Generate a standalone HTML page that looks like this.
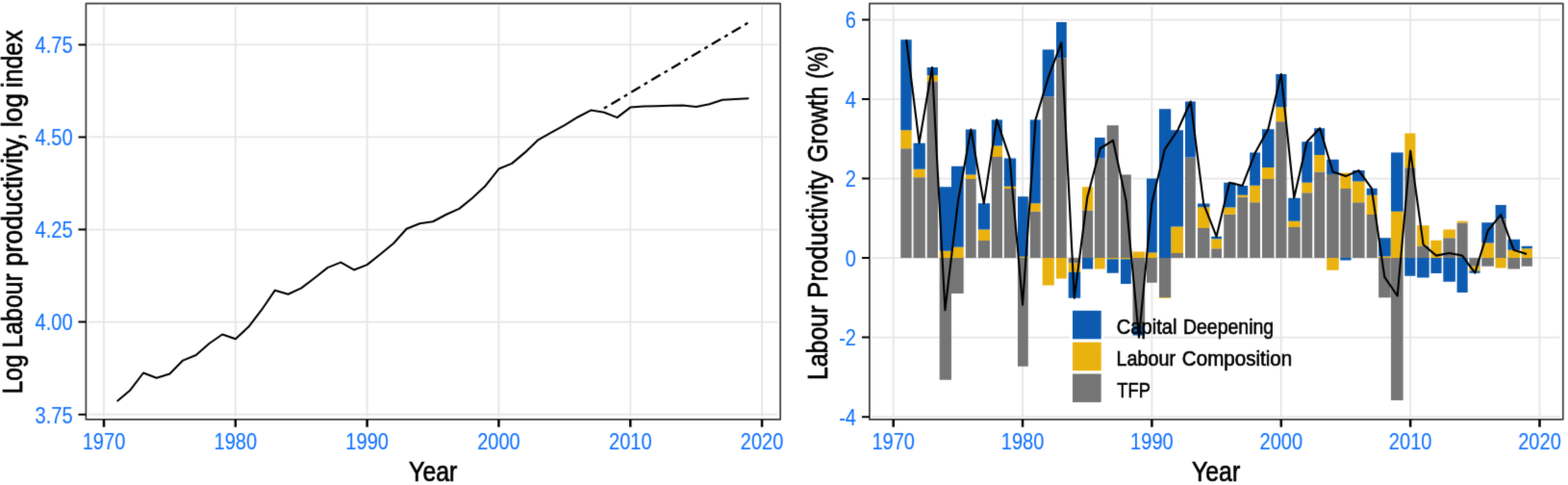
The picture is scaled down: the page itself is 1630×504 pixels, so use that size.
<!DOCTYPE html>
<html lang="en">
<head>
<meta charset="utf-8">
<title>Labour productivity and growth decomposition</title>
<style>
html,body{margin:0;padding:0;background:#fff;}
body{width:1630px;height:504px;overflow:hidden;}
svg{display:block;}
text{font-family:"Liberation Sans", sans-serif;}
</style>
</head>
<body>
<svg width="1630" height="504" viewBox="0 0 1630 504">
<defs><filter id="soft" x="0" y="0" width="1630" height="504" filterUnits="userSpaceOnUse" color-interpolation-filters="sRGB"><feConvolveMatrix order="3" kernelMatrix="0.0113 0.0838 0.0113 0.0838 0.6193 0.0838 0.0113 0.0838 0.0113" edgeMode="duplicate" preserveAlpha="true"/></filter></defs>
<g filter="url(#soft)">
<rect width="1630" height="504" fill="#fff"/>
<g id="left">
<path d="M108 6.5V433.1M244.82 6.5V433.1M381.64 6.5V433.1M518.46 6.5V433.1M655.28 6.5V433.1M792.1 6.5V433.1M92.2 430.7H808.4M92.2 334.62H808.4M92.2 238.55H808.4M92.2 142.47H808.4M92.2 46.4H808.4" stroke="#e6e6e6" stroke-width="1.8" fill="none"/>
<polyline points="121.68,416.98 135.36,405.41 149.05,387.5 162.73,392.69 176.41,388.43 190.09,374.59 203.77,369.02 217.46,356.99 231.14,347.5 244.82,352.3 258.5,339.62 272.18,321.71 285.87,301.65 299.55,305.8 313.23,299.38 326.91,288.97 340.59,278.13 354.28,272.6 367.96,280.44 381.64,275.14 395.32,264.18 409,253.04 422.69,237.7 436.37,232.21 450.05,230.25 463.73,222.99 477.41,216.88 491.1,205.69 504.78,192.9 518.46,175.52 532.14,169.84 545.82,158.39 559.51,145.28 573.19,137.56 586.87,130.06 600.55,121.72 614.23,114.57 627.92,116.73 641.6,122.11 655.28,111.58 668.96,110.58 682.64,110.19 696.33,109.81 710.01,109.5 723.69,110.96 737.37,108.27 751.05,103.66 764.74,103.08 778.42,102.35" fill="none" stroke="#000" stroke-width="2.05" stroke-linejoin="round"/>
<line x1="627.92" y1="112.6" x2="778.42" y2="23.2" stroke="#000" stroke-width="2.3" stroke-dasharray="3.8 4.9 10.8 4.8"/>
<rect x="89.4" y="3.7" width="721.8" height="432.2" fill="none" stroke="#3c3c3c" stroke-width="1.7" stroke-linejoin="round"/>
<path d="M108 435.9V443.8M244.82 435.9V443.8M381.64 435.9V443.8M518.46 435.9V443.8M655.28 435.9V443.8M792.1 435.9V443.8" stroke="#000" stroke-width="2.5" fill="none"/>
<path d="M81.5 430.7H89.4M81.5 334.62H89.4M81.5 238.55H89.4M81.5 142.47H89.4M81.5 46.4H89.4" stroke="#000" stroke-width="2" fill="none"/>
<text transform="translate(75.6 439.5) scale(0.8260 1)" font-size="24.3" fill="#1776ff" stroke="#1776ff" stroke-width="0.15" text-anchor="end">3.75</text>
<text transform="translate(75.6 343.43) scale(0.8260 1)" font-size="24.3" fill="#1776ff" stroke="#1776ff" stroke-width="0.15" text-anchor="end">4.00</text>
<text transform="translate(75.6 247.35) scale(0.8260 1)" font-size="24.3" fill="#1776ff" stroke="#1776ff" stroke-width="0.15" text-anchor="end">4.25</text>
<text transform="translate(75.6 151.27) scale(0.8260 1)" font-size="24.3" fill="#1776ff" stroke="#1776ff" stroke-width="0.15" text-anchor="end">4.50</text>
<text transform="translate(75.6 55.2) scale(0.8260 1)" font-size="24.3" fill="#1776ff" stroke="#1776ff" stroke-width="0.15" text-anchor="end">4.75</text>
<text transform="translate(108 466.8) scale(0.8260 1)" font-size="24.3" fill="#1776ff" stroke="#1776ff" stroke-width="0.15" text-anchor="middle">1970</text>
<text transform="translate(244.82 466.8) scale(0.8260 1)" font-size="24.3" fill="#1776ff" stroke="#1776ff" stroke-width="0.15" text-anchor="middle">1980</text>
<text transform="translate(381.64 466.8) scale(0.8260 1)" font-size="24.3" fill="#1776ff" stroke="#1776ff" stroke-width="0.15" text-anchor="middle">1990</text>
<text transform="translate(518.46 466.8) scale(0.8260 1)" font-size="24.3" fill="#1776ff" stroke="#1776ff" stroke-width="0.15" text-anchor="middle">2000</text>
<text transform="translate(655.28 466.8) scale(0.8260 1)" font-size="24.3" fill="#1776ff" stroke="#1776ff" stroke-width="0.15" text-anchor="middle">2010</text>
<text transform="translate(792.1 466.8) scale(0.8260 1)" font-size="24.3" fill="#1776ff" stroke="#1776ff" stroke-width="0.15" text-anchor="middle">2020</text>
<text transform="translate(0 499.6)" font-size="29.3" fill="#000" stroke="#000" stroke-width="0.7"><tspan x="425.09" textLength="50.25" lengthAdjust="spacingAndGlyphs">Year</tspan></text>
<text transform="translate(22.6 407.6) rotate(-90)" font-size="29.3" fill="#000" stroke="#000" stroke-width="0.7"><tspan x="-1.67" textLength="40.88" lengthAdjust="spacingAndGlyphs">Log</tspan> <tspan x="46.21" textLength="77.05" lengthAdjust="spacingAndGlyphs">Labour</tspan> <tspan x="130.74" textLength="138.52" lengthAdjust="spacingAndGlyphs">productivity,</tspan> <tspan x="275.26" textLength="35.29" lengthAdjust="spacingAndGlyphs">log</tspan> <tspan x="316.56" textLength="59.72" lengthAdjust="spacingAndGlyphs">index</tspan></text>
</g>
<g id="right">
<path d="M928.7 6.5V433.1M1063.06 6.5V433.1M1197.42 6.5V433.1M1331.78 6.5V433.1M1466.14 6.5V433.1M1600.5 6.5V433.1M906.7 433.14H1622M906.7 350.62H1622M906.7 268.1H1622M906.7 185.58H1622M906.7 103.06H1622M906.7 20.54H1622" stroke="#e6e6e6" stroke-width="1.8" fill="none"/>
<path d="M936.3 154.3H947.7V268.1H936.3ZM949.5 184.34H961.8V268.1H949.5ZM963.7 84.49H975V268.1H963.7ZM976.7 268.1H989V394.77H976.7ZM989 268.1H1001.7V304.95H989ZM1003.8 185.99H1014.7V268.1H1003.8ZM1016.8 249.95H1029V268.1H1016.8ZM1030.8 162.97H1042V268.1H1030.8ZM1043.8 195.9H1056.2V268.1H1043.8ZM1058 268.1H1068.8V380.74H1058ZM1070.8 219.66H1081.7V268.1H1070.8ZM1083.7 100.25H1095.8V268.1H1083.7ZM1098 60.15H1108.8V268.1H1098ZM1110.7 268.1H1123.2V273.46H1110.7ZM1125 218.59H1136.2V268.1H1125ZM1138 164.41H1148.7V268.1H1138ZM1150.7 130.37H1162.8V268.1H1150.7ZM1165 181.45H1175.8V268.1H1165ZM1177.5 268.1H1190.2V338.24H1177.5ZM1192 268.1H1202.8V293.68H1192ZM1205 268.1H1217.2V309.15H1205ZM1217.2 262.98H1230V268.1H1217.2ZM1232 163.51H1242.8V268.1H1232ZM1245 236.99H1257.5V268.1H1245ZM1259.2 258.32H1270V268.1H1259.2ZM1272.2 222.84H1284.5V268.1H1272.2ZM1286.3 204.68H1297.2V268.1H1286.3ZM1299.2 210.17H1310V268.1H1299.2ZM1312 185.99H1324.5V268.1H1312ZM1326.3 126.17H1337.5V268.1H1326.3ZM1339.2 235.92H1351.7V268.1H1339.2ZM1353.3 200.19H1364.2V268.1H1353.3ZM1366.2 178.57H1377.2V268.1H1366.2ZM1379.2 181.04H1391.7V268.1H1379.2ZM1393.3 195.9H1404.5V268.1H1393.3ZM1406 210.13H1418.6V268.1H1406ZM1420.7 222.92H1431.7V268.1H1420.7ZM1433.1 268.1H1445.7V309.28H1433.1ZM1446 268.1H1458.6V416.02H1446ZM1460.3 174.27H1471.4V268.1H1460.3ZM1473.1 255.56H1485.7V268.1H1473.1ZM1500.3 247.3H1512.9V268.1H1500.3ZM1514.6 231.58H1525.7V268.1H1514.6ZM1527.4 268.1H1538.6V276.68H1527.4ZM1540.3 268.1H1552.9V276.68H1540.3ZM1554.6 227.29H1565.7V268.1H1554.6ZM1567.4 268.1H1580V279.45H1567.4ZM1581.7 268.1H1592.9V276.68H1581.7Z" fill="#757575"/>
<path d="M936.3 135.33H947.7V154.3H936.3ZM949.5 175.76H961.8V184.34H949.5ZM963.7 78.3H975V84.49H963.7ZM976.7 260.84H989V268.1H976.7ZM989 256.84H1001.7V268.1H989ZM1003.8 181.45H1014.7V185.99H1003.8ZM1016.8 238.39H1029V249.95H1016.8ZM1030.8 151.42H1042V162.97H1030.8ZM1043.8 193.83H1056.2V195.9H1043.8ZM1058 266.86H1068.8V268.1H1058ZM1070.8 211.33H1081.7V219.66H1070.8ZM1083.7 268.1H1095.8V296.57H1083.7ZM1098 268.1H1108.8V289.43H1098ZM1110.7 273.46H1123.2V282.75H1110.7ZM1125 194.24H1136.2V218.59H1125ZM1138 268.1H1148.7V279.45H1138ZM1150.7 268.1H1162.8V269.34H1150.7ZM1165 268.1H1175.8V269.34H1165ZM1177.5 261.42H1190.2V268.1H1177.5ZM1192 262.49H1202.8V268.1H1192ZM1205 309.15H1217.2V309.98H1205ZM1217.2 235.5H1230V262.98H1217.2ZM1245 215.29H1257.5V236.99H1245ZM1259.2 248.3H1270V258.32H1259.2ZM1272.2 215.49H1284.5V222.84H1272.2ZM1286.3 202.7H1297.2V204.68H1286.3ZM1299.2 192.68H1310V210.17H1299.2ZM1312 174.03H1324.5V185.99H1312ZM1326.3 111.31H1337.5V126.17H1326.3ZM1339.2 229.73H1351.7V235.92H1339.2ZM1353.3 189.71H1364.2V200.19H1353.3ZM1366.2 160.99H1377.2V178.57H1366.2ZM1379.2 268.1H1391.7V280.81H1379.2ZM1393.3 179.8H1404.5V195.9H1393.3ZM1406 188.47H1418.6V210.13H1406ZM1420.7 202.7H1431.7V222.92H1420.7ZM1433.1 266.45H1445.7V268.1H1433.1ZM1446 219.7H1458.6V268.1H1446ZM1460.3 138.54H1471.4V174.27H1460.3ZM1473.1 234.14H1485.7V255.56H1473.1ZM1487.4 249.86H1498.6V268.1H1487.4ZM1500.3 238.43H1512.9V247.3H1500.3ZM1514.6 229.85H1525.7V231.58H1514.6ZM1527.4 276.68H1538.6V281.59H1527.4ZM1540.3 252.59H1552.9V268.1H1540.3ZM1554.6 268.1H1565.7V278.42H1554.6ZM1567.4 259.72H1580V268.1H1567.4ZM1581.7 258.28H1592.9V268.1H1581.7Z" fill="#eab20e"/>
<path d="M936.3 41.17H947.7V135.33H936.3ZM949.5 148.65H961.8V175.76H949.5ZM963.7 70.05H975V78.3H963.7ZM976.7 194.24H989V260.84H976.7ZM989 172.79H1001.7V256.84H989ZM1003.8 134.5H1014.7V181.45H1003.8ZM1016.8 211.33H1029V238.39H1016.8ZM1030.8 124.39H1042V151.42H1030.8ZM1043.8 164.41H1056.2V193.83H1043.8ZM1058 204.15H1068.8V266.86H1058ZM1070.8 124.39H1081.7V211.33H1070.8ZM1083.7 51.49H1095.8V100.25H1083.7ZM1098 23.02H1108.8V60.15H1098ZM1110.7 282.75H1123.2V309.77H1110.7ZM1125 268.1H1136.2V279.45H1125ZM1138 142.92H1148.7V164.41H1138ZM1150.7 269.34H1162.8V283.66H1150.7ZM1165 269.34H1175.8V294.92H1165ZM1177.5 338.24H1190.2V348.56H1177.5ZM1192 185.58H1202.8V262.49H1192ZM1205 113.17H1217.2V268.1H1205ZM1217.2 135.24H1230V235.5H1217.2ZM1232 105.54H1242.8V163.51H1232ZM1245 211.57H1257.5V215.29H1245ZM1259.2 245.82H1270V248.3H1259.2ZM1272.2 189.83H1284.5V215.49H1272.2ZM1286.3 193.01H1297.2V202.7H1286.3ZM1299.2 158.51H1310V192.68H1299.2ZM1312 134.21H1324.5V174.03H1312ZM1326.3 77.07H1337.5V111.31H1326.3ZM1339.2 205.67H1351.7V229.73H1339.2ZM1353.3 147.21H1364.2V189.71H1353.3ZM1366.2 133.18H1377.2V160.99H1366.2ZM1379.2 165.78H1391.7V181.04H1379.2ZM1393.3 268.1H1404.5V270.58H1393.3ZM1406 177.12H1418.6V188.47H1406ZM1420.7 195.69H1431.7V202.7H1420.7ZM1433.1 247.3H1445.7V266.45H1433.1ZM1446 158.6H1458.6V219.7H1446ZM1460.3 268.1H1471.4V286.67H1460.3ZM1473.1 268.1H1485.7V288.48H1473.1ZM1487.4 268.1H1498.6V284.03H1487.4ZM1500.3 268.1H1512.9V292.77H1500.3ZM1514.6 268.1H1525.7V303.91H1514.6ZM1527.4 281.59H1538.6V283.7H1527.4ZM1540.3 231.3H1552.9V252.59H1540.3ZM1554.6 213.02H1565.7V227.29H1554.6ZM1567.4 248.71H1580V259.72H1567.4ZM1581.7 255.85H1592.9V258.28H1581.7Z" fill="#0c5bb0"/>
<polyline points="942.14,41.17 955.57,148.65 969.01,70.05 982.44,322.15 995.88,209.63 1009.32,134.5 1022.75,211.33 1036.19,124.39 1049.62,164.41 1063.06,316.79 1076.5,124.39 1089.93,79.95 1103.37,44.35 1116.8,309.77 1130.24,205.59 1143.68,154.26 1157.11,145.93 1170.55,208.27 1183.98,350.62 1197.42,210.75 1210.86,155.05 1224.29,135.24 1237.73,105.54 1251.16,211.57 1264.6,245.82 1278.04,189.83 1291.47,193.01 1304.91,158.51 1318.34,134.21 1331.78,77.07 1345.22,205.67 1358.65,147.21 1372.09,133.18 1385.52,178.48 1398.96,183.1 1412.4,177.12 1425.83,195.69 1439.27,287.9 1452.7,307.5 1466.14,156.7 1479.58,254.2 1493.01,265.62 1506.45,262.94 1519.88,265.46 1533.32,283.57 1546.76,239.63 1560.19,223.13 1573.63,259.85 1587.06,263.97" fill="none" stroke="#000" stroke-width="2.1" stroke-linejoin="round"/>
<rect x="1112" y="321.1" width="35.7" height="32.9" fill="#fff"/>
<rect x="1115" y="322.8" width="29.7" height="29.5" fill="#0c5bb0"/>
<rect x="1112" y="354" width="35.7" height="32.9" fill="#fff"/>
<rect x="1115" y="355.7" width="29.7" height="29.5" fill="#eab20e"/>
<rect x="1112" y="386.8" width="35.7" height="32.9" fill="#fff"/>
<rect x="1115" y="388.5" width="29.7" height="29.5" fill="#757575"/>
<text transform="translate(0 346.8)" font-size="22.1" fill="#000" stroke="#000" stroke-width="0.6"><tspan x="1160.69" textLength="62.78" lengthAdjust="spacingAndGlyphs">Capital</tspan> <tspan x="1229.99" textLength="94.12" lengthAdjust="spacingAndGlyphs">Deepening</tspan></text>
<text transform="translate(0 379.8)" font-size="22.1" fill="#000" stroke="#000" stroke-width="0.6"><tspan x="1160.47" textLength="61.55" lengthAdjust="spacingAndGlyphs">Labour</tspan> <tspan x="1228.87" textLength="114.28" lengthAdjust="spacingAndGlyphs">Composition</tspan></text>
<text transform="translate(0 412.7)" font-size="22.1" fill="#000" stroke="#000" stroke-width="0.6"><tspan x="1161.29" textLength="34.55" lengthAdjust="spacingAndGlyphs">TFP</tspan></text>
<rect x="903.9" y="3.7" width="720.9" height="432.2" fill="none" stroke="#3c3c3c" stroke-width="1.7" stroke-linejoin="round"/>
<path d="M928.7 435.9V443.8M1063.06 435.9V443.8M1197.42 435.9V443.8M1331.78 435.9V443.8M1466.14 435.9V443.8M1600.5 435.9V443.8" stroke="#000" stroke-width="2.5" fill="none"/>
<path d="M896 433.14H903.9M896 350.62H903.9M896 268.1H903.9M896 185.58H903.9M896 103.06H903.9M896 20.54H903.9" stroke="#000" stroke-width="2" fill="none"/>
<text transform="translate(890 441.94) scale(0.8260 1)" font-size="24.3" fill="#1776ff" stroke="#1776ff" stroke-width="0.15" text-anchor="end">-4</text>
<text transform="translate(890 359.42) scale(0.8260 1)" font-size="24.3" fill="#1776ff" stroke="#1776ff" stroke-width="0.15" text-anchor="end">-2</text>
<text transform="translate(890 276.9) scale(0.8260 1)" font-size="24.3" fill="#1776ff" stroke="#1776ff" stroke-width="0.15" text-anchor="end">0</text>
<text transform="translate(890 194.38) scale(0.8260 1)" font-size="24.3" fill="#1776ff" stroke="#1776ff" stroke-width="0.15" text-anchor="end">2</text>
<text transform="translate(890 111.86) scale(0.8260 1)" font-size="24.3" fill="#1776ff" stroke="#1776ff" stroke-width="0.15" text-anchor="end">4</text>
<text transform="translate(890 29.34) scale(0.8260 1)" font-size="24.3" fill="#1776ff" stroke="#1776ff" stroke-width="0.15" text-anchor="end">6</text>
<text transform="translate(928.7 466.8) scale(0.8260 1)" font-size="24.3" fill="#1776ff" stroke="#1776ff" stroke-width="0.15" text-anchor="middle">1970</text>
<text transform="translate(1063.06 466.8) scale(0.8260 1)" font-size="24.3" fill="#1776ff" stroke="#1776ff" stroke-width="0.15" text-anchor="middle">1980</text>
<text transform="translate(1197.42 466.8) scale(0.8260 1)" font-size="24.3" fill="#1776ff" stroke="#1776ff" stroke-width="0.15" text-anchor="middle">1990</text>
<text transform="translate(1331.78 466.8) scale(0.8260 1)" font-size="24.3" fill="#1776ff" stroke="#1776ff" stroke-width="0.15" text-anchor="middle">2000</text>
<text transform="translate(1466.14 466.8) scale(0.8260 1)" font-size="24.3" fill="#1776ff" stroke="#1776ff" stroke-width="0.15" text-anchor="middle">2010</text>
<text transform="translate(1600.5 466.8) scale(0.8260 1)" font-size="24.3" fill="#1776ff" stroke="#1776ff" stroke-width="0.15" text-anchor="middle">2020</text>
<text transform="translate(0 499.6)" font-size="29.3" fill="#000" stroke="#000" stroke-width="0.7"><tspan x="1238.99" textLength="50.25" lengthAdjust="spacingAndGlyphs">Year</tspan></text>
<text transform="translate(859.6 393.4) rotate(-90)" font-size="29.3" fill="#000" stroke="#000" stroke-width="0.7"><tspan x="-1.7" textLength="77.56" lengthAdjust="spacingAndGlyphs">Labour</tspan> <tspan x="83.74" textLength="132.3" lengthAdjust="spacingAndGlyphs">Productivity</tspan> <tspan x="224.62" textLength="79.14" lengthAdjust="spacingAndGlyphs">Growth</tspan> <tspan x="311.78" textLength="33.99" lengthAdjust="spacingAndGlyphs">(%)</tspan></text>
</g>
</g>
</svg>
</body>
</html>
